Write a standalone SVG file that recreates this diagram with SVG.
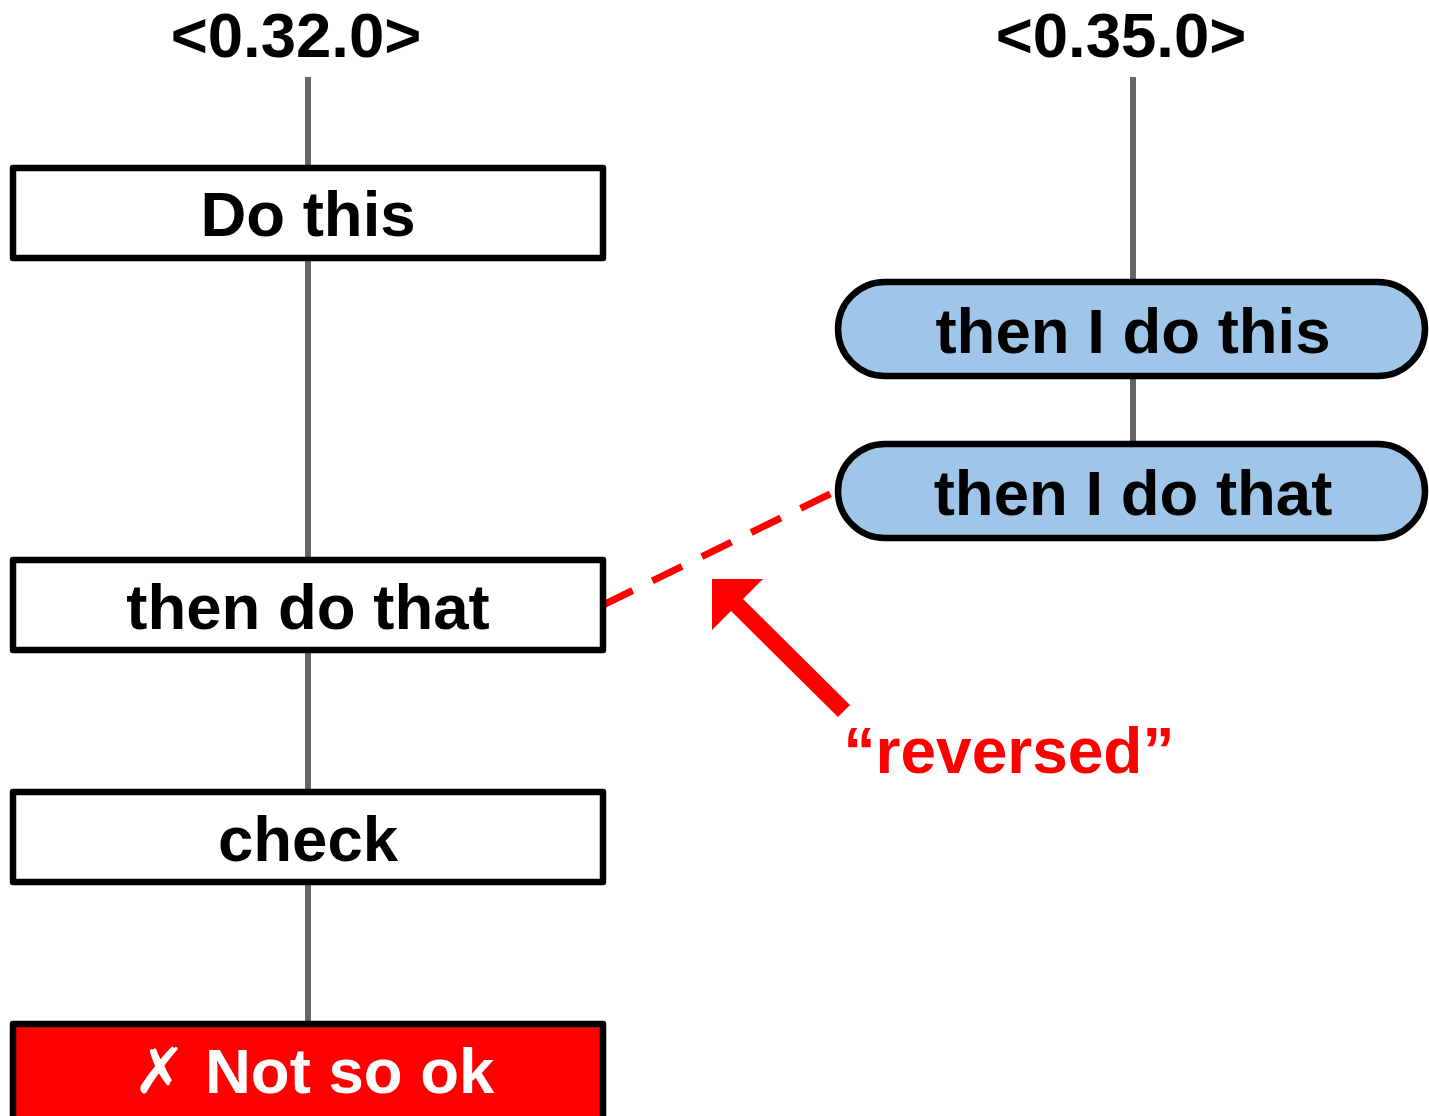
<svg xmlns="http://www.w3.org/2000/svg" width="1429" height="1116" viewBox="0 0 1429 1116">
  <style>
    .lbl { font-family: "Liberation Sans", Arial, sans-serif; font-weight: bold; font-size: 63.5px; text-anchor: middle; }
    .box { fill: #ffffff; stroke: #000000; stroke-width: 6.5; stroke-linejoin: round; }
    .pill { fill: #9fc5e8; stroke: #000000; stroke-width: 6.5; }
    .bad { fill: #ff0000; stroke: #000000; stroke-width: 6.5; stroke-linejoin: round; }
    .edge { stroke: #666666; stroke-width: 6; fill: none; }
  </style>
  <rect width="1429" height="1116" fill="#ffffff"/>

  <!-- version headers -->
  <text class="lbl" x="296" y="57">&lt;0.32.0&gt;</text>
  <text class="lbl" x="1121" y="57">&lt;0.35.0&gt;</text>

  <!-- timeline connectors -->
  <g id="connectors">
    <line class="edge" x1="308" y1="77" x2="308" y2="168"/>
    <line class="edge" x1="308" y1="258" x2="308" y2="560"/>
    <line class="edge" x1="308" y1="650" x2="308" y2="792"/>
    <line class="edge" x1="308" y1="882" x2="308" y2="1024"/>
    <line class="edge" x1="1133" y1="77" x2="1133" y2="282"/>
    <line class="edge" x1="1133" y1="376" x2="1133" y2="444"/>
    <line x1="603" y1="605" x2="836" y2="491" stroke="#ff0000" stroke-width="7" stroke-dasharray="33 22"/>
  </g>

  <g id="do-this">
    <rect class="box" x="13" y="168" width="590" height="90"/>
    <text class="lbl" x="308" y="236">Do this</text>
  </g>
  <g id="then-do-that">
    <rect class="box" x="13" y="560" width="590" height="90"/>
    <text class="lbl" x="308" y="629">then do that</text>
  </g>
  <g id="check">
    <rect class="box" x="13" y="792" width="590" height="90"/>
    <text class="lbl" x="308" y="861">check</text>
  </g>
  <g id="not-so-ok">
    <rect class="bad" x="13" y="1024" width="590" height="96"/>
    <text class="lbl" y="1093" fill="#ffffff" style="text-anchor:start"><tspan x="133" font-family="DejaVu Sans, sans-serif" font-weight="normal">✗</tspan><tspan x="205">Not so ok</tspan></text>
  </g>

  <g id="then-i-do-this">
    <rect class="pill" x="838" y="282" width="587" height="94" rx="47"/>
    <text class="lbl" x="1133" y="353">then I do this</text>
  </g>
  <g id="then-i-do-that">
    <rect class="pill" x="838" y="444" width="587" height="94" rx="47"/>
    <text class="lbl" x="1133" y="515">then I do that</text>
  </g>

  <!-- annotation arrow -->
  <g id="reversed-note">
    <line x1="728" y1="596" x2="844" y2="711" stroke="#ff0000" stroke-width="17"/>
    <polygon points="712,579 763,579 712,630" fill="#ff0000"/>
    <text class="lbl" x="1009" y="773" fill="#ff0000" style="font-size:64px">“reversed”</text>
  </g>
</svg>
